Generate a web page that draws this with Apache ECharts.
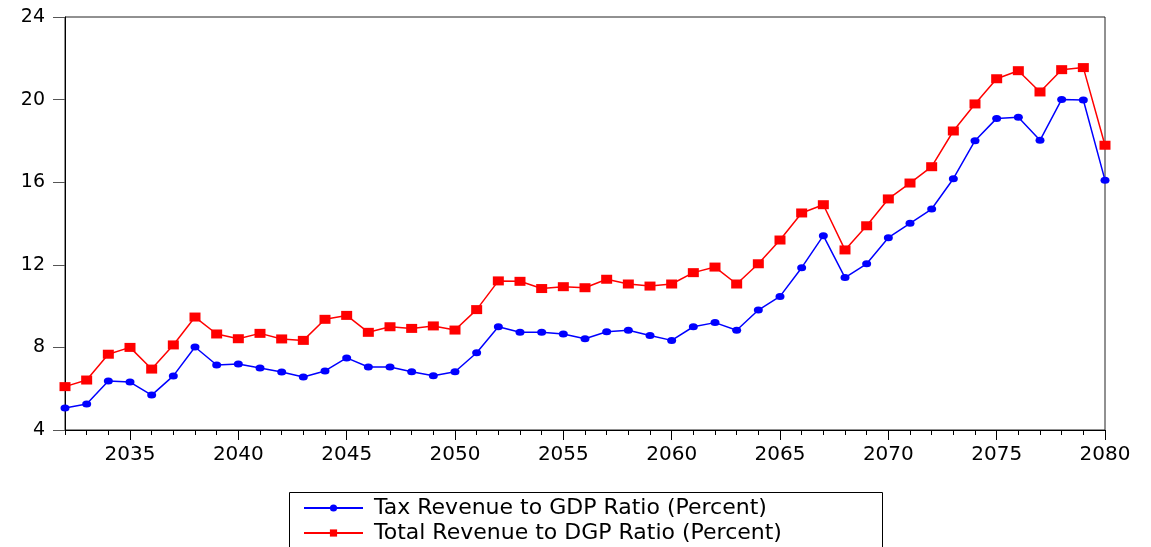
<!DOCTYPE html>
<html>
<head>
<meta charset="utf-8">
<script src="https://cdn.jsdelivr.net/npm/echarts@6/dist/echarts.min.js"></script>
<style>
html,body{margin:0;padding:0;background:#fff;}
#chart{width:1151px;height:547px;}
</style>
</head>
<body>
<div id="chart"></div>
<script>
const years = [];
for (let y = 2032; y <= 2080; y++) years.push(String(y));

const taxRevenue = [5.07, 5.26, 6.37, 6.32, 5.69, 6.62, 8.02, 7.15, 7.20, 7.00,
  6.81, 6.57, 6.86, 7.49, 7.05, 7.05, 6.82, 6.63, 6.82, 7.74,
  9.00, 8.73, 8.73, 8.65, 8.42, 8.76, 8.83, 8.58, 8.34, 9.00,
  9.20, 8.83, 9.81, 10.47, 11.86, 13.41, 11.38, 12.05, 13.31, 14.01,
  14.70, 16.17, 18.01, 19.09, 19.14, 18.03, 20.01, 19.98, 16.10];

const totalRevenue = [6.10, 6.42, 7.67, 8.00, 6.95, 8.12, 9.47, 8.65, 8.42, 8.68,
  8.41, 8.34, 9.36, 9.55, 8.73, 9.00, 8.92, 9.04, 8.84, 9.83,
  11.22, 11.20, 10.85, 10.94, 10.89, 11.30, 11.07, 10.97, 11.07, 11.62,
  11.89, 11.07, 12.05, 13.20, 14.51, 14.91, 12.72, 13.89, 15.19, 15.96,
  16.75, 18.48, 19.79, 21.01, 21.40, 20.37, 21.45, 21.55, 17.79];

const seriesNames = ['Tax Revenue to GDP Ratio (Percent)', 'Total Revenue to DGP Ratio (Percent)'];

const chart = echarts.init(document.getElementById('chart'), null, {renderer: 'canvas'});
const font = 'DejaVu Sans';
const legendBase = {
  orient: 'horizontal', left: 303, padding: 0,
  itemWidth: 59, itemHeight: 9,
  textStyle: {fontFamily: font, fontSize: 22, color: '#000', lineHeight: 22, padding: [0, 0, 0, 6]}
};
chart.setOption({
  animation: false,
  backgroundColor: '#fff',
  grid: {left: 65, right: 46, top: 17, bottom: 117, show: true, borderColor: '#222', borderWidth: 1, backgroundColor: 'transparent'},
  graphic: [{
    type: 'rect', left: 289, top: 492, z: 0, silent: true,
    shape: {width: 593, height: 70},
    style: {fill: 'transparent', stroke: '#000', lineWidth: 1}
  }],
  legend: [
    Object.assign({}, legendBase, {top: 497, data: [seriesNames[0]]}),
    Object.assign({}, legendBase, {top: 522, data: [seriesNames[1]]})
  ],
  xAxis: [{
    type: 'category', data: years, boundaryGap: false, position: 'bottom',
    axisLine: {lineStyle: {color: '#000', width: 1}},
    axisTick: {show: true, length: 5, interval: 0, lineStyle: {color: '#000'}},
    axisLabel: {show: false},
    splitLine: {show: false}
  }, {
    type: 'category', data: years, boundaryGap: false, position: 'bottom',
    axisLine: {lineStyle: {color: '#000', width: 1}},
    axisTick: {show: true, length: 10, interval: (i, v) => Number(v) % 5 === 0, lineStyle: {color: '#000'}},
    axisLabel: {show: true, interval: (i, v) => Number(v) % 5 === 0, margin: 15, fontFamily: font, fontSize: 20, color: '#000'},
    splitLine: {show: false}
  }],
  yAxis: {
    type: 'value', min: 4, max: 24, interval: 4,
    axisLine: {show: true, lineStyle: {color: '#000', width: 1}},
    axisTick: {show: true, length: 12, lineStyle: {color: '#555'}},
    axisLabel: {margin: 20, fontFamily: font, fontSize: 19, color: '#000'},
    splitLine: {show: false}
  },
  series: [{
    name: seriesNames[0], type: 'line', xAxisIndex: 0, data: taxRevenue,
    symbol: 'circle', symbolSize: [9, 7],
    lineStyle: {color: '#0000ff', width: 1.5},
    itemStyle: {color: '#0000ff'}
  }, {
    name: seriesNames[1], type: 'line', xAxisIndex: 0, data: totalRevenue,
    symbol: 'rect', symbolSize: [11, 9],
    lineStyle: {color: '#ff0000', width: 1.5},
    itemStyle: {color: '#ff0000'}
  }]
});
</script>
</body>
</html>
